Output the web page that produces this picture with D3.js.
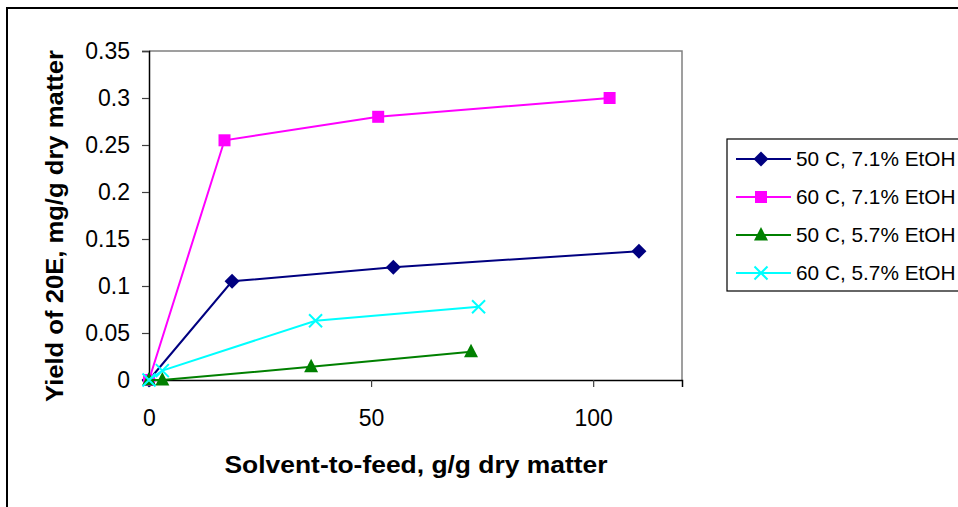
<!DOCTYPE html>
<html><head><meta charset="utf-8">
<script src="https://cdn.jsdelivr.net/npm/d3@7"></script>
<style>body{margin:0;background:#fff}svg{display:block}text{font-family:"Liberation Sans",Arial,sans-serif}</style>
</head><body>
<svg id="c" width="958" height="507"></svg>
<script>
const seriesNames = ["50 C, 7.1% EtOH","60 C, 7.1% EtOH","50 C, 5.7% EtOH","60 C, 5.7% EtOH"];
const seriesColors = ["#000080","#FF00FF","#008000","#00FFFF"];
const seriesMarkers = ["diamond","square","triangle","x"];
const s1x = [0, 18.7, 55.0, 110.3];
const s1y = [0, 0.105, 0.120, 0.137];
const s2x = [0, 17.0, 51.6, 103.7];
const s2y = [0, 0.255, 0.280, 0.300];
const s3x = [0, 3.0, 36.5, 72.5];
const s3y = [0, 0, 0.014, 0.030];
const s4x = [0, 3.0, 37.5, 74.2];
const s4y = [0, 0.010, 0.063, 0.078];
const xTicks = [0, 50, 100];
const yTicks = [0, 0.05, 0.1, 0.15, 0.2, 0.25, 0.3, 0.35];
const xTitle = "Solvent-to-feed, g/g dry matter";
const yTitle = "Yield of 20E, mg/g dry matter";

const svg = d3.select("#c");
const L = 149, R = 682, T = 51, B = 380;
const x = d3.scaleLinear().domain([0, 120]).range([L, R]);
const y = d3.scaleLinear().domain([0, 0.35]).range([B, T]);

svg.append("rect").attr("x", 7).attr("y", 8).attr("width", 990).attr("height", 530)
  .attr("fill", "none").attr("stroke", "#000").attr("stroke-width", 2);

svg.append("path").attr("d", `M${L},${T}H${R}V${B}`).attr("fill", "none")
  .attr("stroke", "#808080").attr("stroke-width", 1.5);

const yAxis = d3.axisLeft(y).tickValues(yTicks).tickSize(7).tickPadding(12)
  .tickFormat(d => d3.format("")(+d.toFixed(2)));
const gy = svg.append("g").attr("transform", `translate(${L},0)`).call(yAxis);
const xAxis = d3.axisBottom(x).tickValues(xTicks).tickSize(7).tickPadding(27).tickFormat(d3.format("d"));
const gx = svg.append("g").attr("transform", `translate(0,${B})`).call(xAxis);
[gx, gy].forEach(g => {
  g.select(".domain").attr("stroke", "#000").attr("stroke-width", 1.5);
  g.selectAll(".tick line").attr("stroke", "#404040").attr("stroke-width", 1.2);
  g.selectAll(".tick text").attr("font-size", 23).attr("fill", "#000")
    .attr("font-family", '"Liberation Sans",Arial,sans-serif');
});
gx.selectAll(".tick text").attr("dy", "0.5em");

svg.append("text").attr("x", 416).attr("y", 473).attr("text-anchor", "middle")
  .attr("font-size", 24).attr("font-weight", "bold").text(xTitle)
  .attr("textLength", 383).attr("lengthAdjust", "spacingAndGlyphs");
svg.append("text").attr("transform", "translate(63,226) rotate(-90)").attr("text-anchor", "middle")
  .attr("font-size", 24).attr("font-weight", "bold").text(yTitle)
  .attr("textLength", 352).attr("lengthAdjust", "spacingAndGlyphs");

function marker(g, type, color, cx, cy) {
  if (type === "diamond") {
    g.append("path").attr("d", `M${cx},${cy-7.5}L${cx+7.5},${cy}L${cx},${cy+7.5}L${cx-7.5},${cy}Z`).attr("fill", color);
  } else if (type === "square") {
    g.append("rect").attr("x", cx - 6).attr("y", cy - 6).attr("width", 12).attr("height", 12).attr("fill", color);
  } else if (type === "triangle") {
    g.append("path").attr("d", `M${cx},${cy-8}L${cx+7},${cy+5.5}L${cx-7},${cy+5.5}Z`).attr("fill", color);
  } else {
    g.append("path").attr("d", `M${cx-6.5},${cy-6.5}L${cx+6.5},${cy+6.5}M${cx-6.5},${cy+6.5}L${cx+6.5},${cy-6.5}`)
      .attr("stroke", color).attr("stroke-width", 2).attr("fill", "none");
  }
}
const allX = [s1x, s2x, s3x, s4x], allY = [s1y, s2y, s3y, s4y];
const line = d3.line().x(d => x(d[0])).y(d => y(d[1]));
allX.forEach((xs, i) => {
  const pts = xs.map((v, j) => [v, allY[i][j]]);
  const g = svg.append("g");
  g.append("path").attr("d", line(pts)).attr("fill", "none").attr("stroke", seriesColors[i]).attr("stroke-width", 2);
  pts.forEach(p => marker(g, seriesMarkers[i], seriesColors[i], x(p[0]), y(p[1])));
});

const lg = svg.append("g");
lg.append("rect").attr("x", 727).attr("y", 139).attr("width", 260).attr("height", 152)
  .attr("fill", "#fff").attr("stroke", "#000").attr("stroke-width", 1.2);
const ly = [159, 197, 235, 273];
seriesNames.forEach((n, i) => {
  lg.append("line").attr("x1", 736).attr("x2", 791).attr("y1", ly[i]).attr("y2", ly[i])
    .attr("stroke", seriesColors[i]).attr("stroke-width", 2);
  marker(lg, seriesMarkers[i], seriesColors[i], 761, ly[i]);
  lg.append("text").attr("x", 796).attr("y", ly[i]).attr("dy", "0.36em").attr("font-size", 20.8).text(n);
});
</script>
</body></html>
